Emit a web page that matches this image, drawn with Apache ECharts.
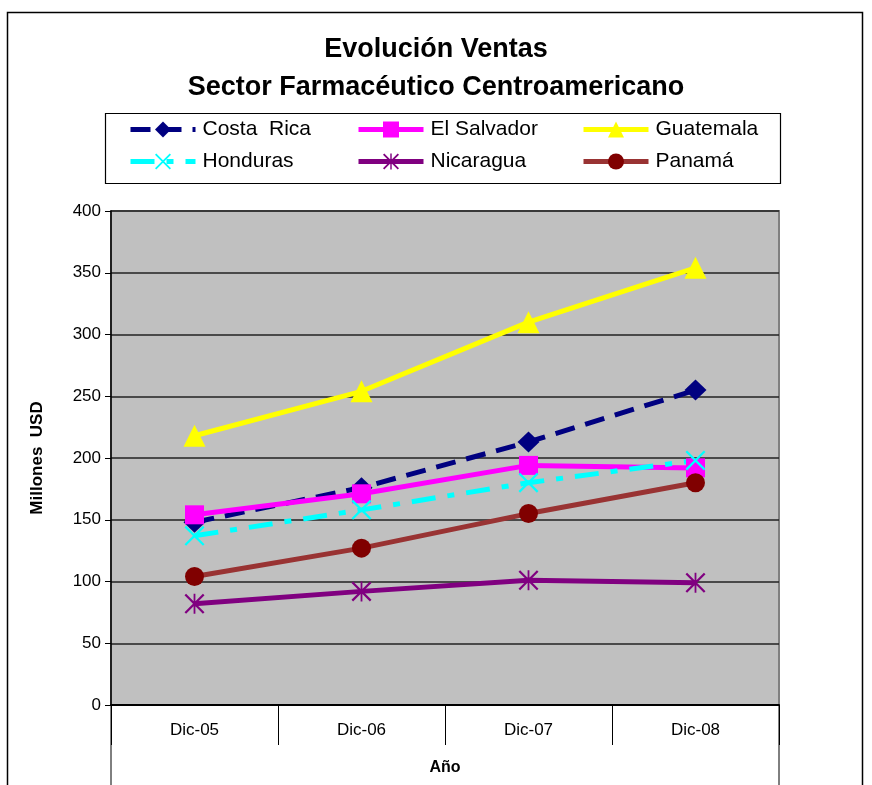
<!DOCTYPE html>
<html>
<head>
<meta charset="utf-8">
<script src="https://cdn.jsdelivr.net/npm/echarts@6/dist/echarts.min.js"></script>
<style>
  html, body { margin: 0; padding: 0; background: #fff; }
  #chart { width: 872px; height: 785px; }
</style>
</head>
<body>
<div id="chart"></div>
<script>
// Sales by country, millions of USD, December of each year
const years = ['Dic-05', 'Dic-06', 'Dic-07', 'Dic-08'];
const costaRica  = [148, 176, 213, 255];
const elSalvador = [154, 171, 194, 192];
const guatemala  = [218, 254, 310, 354];
const honduras   = [137, 158, 180, 198];
const nicaragua  = [82, 92, 101, 99];
const panama     = [104, 127, 155, 180];
const yTicks = { min: 0, max: 400, interval: 50 };

const FONT = 'Liberation Sans, Arial, sans-serif';
const G = { left: 111, right: 93, top: 211, bottom: 80 };
const W = 872, H = 785;

// stroke-like glyphs built from thin filled bars
const xMark = 'path://M0,0.8 L0.8,0 L10,9.2 L9.2,10 Z M9.2,0 L10,0.8 L0.8,10 L0,9.2 Z';
const starMark = 'path://M0,0.8 L0.8,0 L10,9.2 L9.2,10 Z M9.2,0 L10,0.8 L0.8,10 L0,9.2 Z M4.55,0 L5.45,0 L5.45,10 L4.55,10 Z';

function line(name, data, color, opts) {
  return {
    name, type: 'line', data,
    symbol: opts.symbol, symbolSize: opts.size,
    showAllSymbol: true,
    lineStyle: { color: opts.lineColor || color, width: 5, type: opts.dash || 'solid', cap: 'butt' },
    itemStyle: { color: color, borderWidth: 0 },
    emphasis: { disabled: true },
    animation: false
  };
}

const series = [
  line('Costa  Rica', costaRica, '#000080', { symbol: 'diamond', size: [22, 21], dash: [20, 11] }),
  line('El Salvador', elSalvador, '#FF00FF', { symbol: 'rect', size: 19 }),
  line('Guatemala', guatemala, '#FFFF00', { symbol: 'triangle', size: 22 }),
  line('Honduras', honduras, '#00FFFF', { symbol: xMark, size: 20, dash: [24, 12, 7, 12] }),
  line('Nicaragua', nicaragua, '#800080', { symbol: starMark, size: 20 }),
  line('Panamá', panama, '#800000', { symbol: 'circle', size: 19, lineColor: '#993333' })
];

function legendCol(names, left) {
  return {
    data: names, left, top: 119, orient: 'vertical',
    itemWidth: 65, itemHeight: 20, itemGap: 11,
    selectedMode: false,
    lineStyle: { width: 5 },
    textStyle: { fontFamily: FONT, fontSize: 21, color: '#000', padding: [0, 0, 0, 2] },
    padding: 0
  };
}

const chart = echarts.init(document.getElementById('chart'), null, { renderer: 'canvas' });
chart.setOption({
  backgroundColor: '#fff',
  animation: false,
  title: {
    text: 'Evolución Ventas\nSector Farmacéutico Centroamericano',
    left: 'center', top: 26,
    textStyle: { fontFamily: FONT, fontSize: 27, fontWeight: 'bold', color: '#000', lineHeight: 38 }
  },
  legend: [
    legendCol(['Costa  Rica', 'Honduras'], 128),
    legendCol(['El Salvador', 'Nicaragua'], 356),
    legendCol(['Guatemala', 'Panamá'], 581)
  ],
  grid: {
    left: G.left, right: G.right, top: G.top, bottom: G.bottom,
    show: true, backgroundColor: '#C0C0C0', borderColor: '#808080', borderWidth: 2
  },
  xAxis: {
    type: 'category', data: years, boundaryGap: true,
    name: 'Año', nameLocation: 'middle', nameGap: 55,
    nameTextStyle: { fontFamily: FONT, fontSize: 16, fontWeight: 'bold', color: '#000' },
    axisLine: { show: true, lineStyle: { color: '#000', width: 2 } },
    axisTick: { show: true, interval: 0, length: 40, lineStyle: { color: '#000', width: 1 } },
    axisLabel: { fontFamily: FONT, fontSize: 17, color: '#000', margin: 17 }
  },
  yAxis: {
    type: 'value', min: yTicks.min, max: yTicks.max, interval: yTicks.interval,
    name: 'Millones  USD', nameLocation: 'middle', nameGap: 65, nameRotate: 90,
    nameTextStyle: { fontFamily: FONT, fontSize: 17, fontWeight: 'bold', color: '#000' },
    axisLine: { show: true, lineStyle: { color: '#000', width: 1.5 } },
    axisTick: { show: true, length: 6, lineStyle: { color: '#000' } },
    axisLabel: { fontFamily: FONT, fontSize: 17, color: '#000', margin: 10 },
    splitLine: { show: true, lineStyle: { color: '#222', width: 1.5 } }
  },
  graphic: [
    { type: 'rect', silent: true, z: -1,
      shape: { x: 7.5, y: 12.5, width: 855, height: H + 20 },
      style: { fill: null, stroke: '#000', lineWidth: 1.5 } },
    { type: 'rect', silent: true, z: -1,
      shape: { x: 105.5, y: 113.5, width: 675, height: 70 },
      style: { fill: '#fff', stroke: '#000', lineWidth: 1.2 } },
    { type: 'line', silent: true,
      shape: { x1: G.left, y1: H - G.bottom, x2: G.left, y2: H },
      style: { stroke: '#000', lineWidth: 1 } },
    { type: 'line', silent: true,
      shape: { x1: W - G.right, y1: H - G.bottom, x2: W - G.right, y2: H },
      style: { stroke: '#000', lineWidth: 1 } }
  ],
  series
});
</script>
</body>
</html>
